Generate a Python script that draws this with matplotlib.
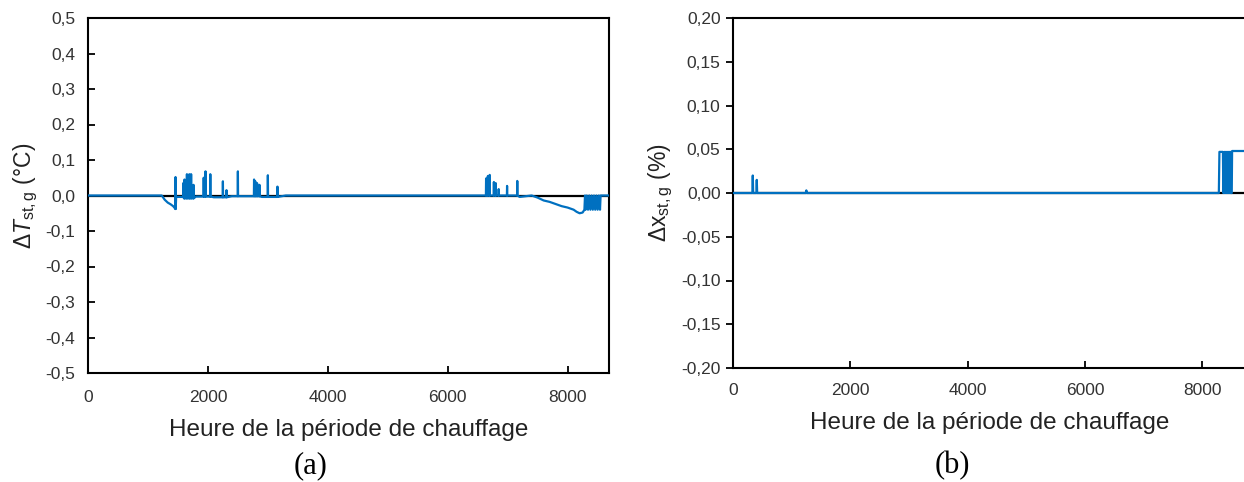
import matplotlib
matplotlib.use("Agg")
import matplotlib.pyplot as plt
from matplotlib.ticker import FuncFormatter

plt.rcParams['font.family'] = ['Liberation Sans', 'DejaVu Sans']
plt.rcParams['mathtext.fontset'] = 'custom'
plt.rcParams['mathtext.rm'] = 'Liberation Sans'
plt.rcParams['mathtext.it'] = 'Liberation Sans:italic'
plt.rcParams['mathtext.bf'] = 'Liberation Sans:bold'

BLUE = '#0070C0'

# --- (a) ΔT_st,g : breakpoints of the base curve (hour, °C)
base_hours_a = [0, 1230, 1280, 1330, 1380, 1420, 1450, 1456, 1470, 1600, 1800, 2100, 2400, 2900,
                3300, 6500, 7200, 7400, 7500, 7600, 7700, 7800, 7900, 8000, 8100, 8150, 8200,
                8250, 8280, 8290, 8300, 8320, 8340, 8360, 8380, 8400, 8420, 8440, 8460, 8480,
                8500, 8520, 8540, 8550, 8760]
base_vals_a = [0.0, 0.0, -0.012, -0.02, -0.025, -0.03, -0.036, -0.038, -0.004, -0.008, -0.003, -0.005,
               -0.002, -0.004, 0.0, 0.0, -0.004, 0.0, -0.006, -0.014, -0.018, -0.024, -0.03, -0.034,
               -0.04, -0.046, -0.05, -0.048, -0.04, 0.0, -0.04, 0.0, -0.04, 0.0, -0.04, 0.0, -0.04,
               0.0, -0.04, 0.0, -0.04, 0.0, -0.04, 0.0, 0.0]

# spikes (hour, height) on top of the base curve
spike_hours_a = [1460, 1590, 1610, 1650, 1690, 1720, 1760, 1930, 1960, 2040, 2250, 2310, 2500,
                 2770, 2790, 2820, 2860, 3000, 3160, 6640, 6670, 6700, 6770, 6800, 6850, 6990, 7160]
spike_vals_a = [0.052, 0.035, 0.045, 0.06, 0.06, 0.06, 0.03, 0.05, 0.068, 0.06, 0.04, 0.015, 0.068,
                0.045, 0.04, 0.035, 0.03, 0.057, 0.025, 0.048, 0.055, 0.058, 0.038, 0.035, 0.018,
                0.027, 0.041]

# --- (b) Δx_st,g : breakpoints (hour, %)
hours_b = [0, 330, 337, 344, 398, 405, 412, 1240, 1250, 1260, 8280, 8290, 8350, 8356, 8380, 8384,
           8400, 8404, 8420, 8424, 8440, 8444, 8460, 8464, 8480, 8484, 8500, 8506, 8760]
vals_b = [0.0, 0.0, 0.02, 0.0, 0.0, 0.015, 0.0, 0.0, 0.003, 0.0, 0.0, 0.047, 0.047, 0.0, 0.047, 0.0,
          0.047, 0.0, 0.047, 0.0, 0.047, 0.0, 0.047, 0.0, 0.047, 0.0, 0.0, 0.048, 0.048]


def merge_spikes(bh, bv, sh, sv):
    pts = list(zip(bh, bv))
    for h, v in zip(sh, sv):
        # base level at h, taken from the nearest earlier breakpoint
        lvl = 0.0
        for x, y in zip(bh, bv):
            if x <= h:
                lvl = y
        pts += [(h - 3, lvl), (h, v), (h + 3, lvl)]
    pts.sort(key=lambda p: p[0])
    return [p[0] for p in pts], [p[1] for p in pts]


def style_axes(ax, ylim, yticks, ndec, xmax, ydir, xpad):
    ax.axhline(0, color='black', lw=1.6, zorder=1)
    ax.set_xlim(0, xmax)
    ax.set_ylim(*ylim)
    ax.set_xticks([0, 2000, 4000, 6000, 8000])
    ax.set_yticks(yticks)
    ax.yaxis.set_major_formatter(FuncFormatter(lambda v, p: f"{v:.{ndec}f}".replace('.', ',')))
    ax.tick_params(axis='x', direction='in', length=5, width=1.3, labelsize=12.5, pad=xpad)
    ax.tick_params(axis='y', direction=ydir, length=5, width=1.3, labelsize=12.5,
                   pad=9 if ydir == 'in' else 4)
    ax.tick_params(labelcolor='#333333')
    for s in ax.spines.values():
        s.set_linewidth(1.5)
    ax.set_xlabel("Heure de la période de chauffage", fontsize=17.5, labelpad=10, color='#222222')


fig = plt.figure(figsize=(12.44, 4.82), dpi=100)

ax1 = fig.add_axes([88 / 1244, 1 - 373 / 482, (609 - 88) / 1244, (373 - 18) / 482])
xa, ya = merge_spikes(base_hours_a, base_vals_a, spike_hours_a, spike_vals_a)
ax1.plot(xa, ya, color=BLUE, lw=1.6, zorder=3)
style_axes(ax1, (-0.5, 0.5), [-0.5, -0.4, -0.3, -0.2, -0.1, 0.0, 0.1, 0.2, 0.3, 0.4, 0.5], 1, 8690,
           'in', 12)
ax1.set_ylabel(r'$\mathit{\Delta T}_{\mathrm{st,g}}$ (°C)', fontsize=16.5, labelpad=4, color='#222222')

ax2 = fig.add_axes([733 / 1244, 1 - 368 / 482, 514 / 1244, (368 - 18) / 482])
ax2.plot(hours_b, vals_b, color=BLUE, lw=1.6, zorder=3)
style_axes(ax2, (-0.2, 0.2), [-0.2, -0.15, -0.1, -0.05, 0.0, 0.05, 0.1, 0.15, 0.2], 2, 8760,
           'out', 11)
ax2.set_ylabel(r'$\mathit{\Delta}\mathrm{x}_{\mathrm{st,g}}$ (%)', fontsize=16.5, labelpad=4, color='#222222')

fig.text(311 / 1244, 1 - 466 / 482, "(a)", family='Liberation Serif', fontsize=22, ha='center', va='center')
fig.text(952 / 1244, 1 - 466 / 482, "(b)", family='Liberation Serif', fontsize=22, ha='center', va='center')

fig.savefig("out.png", dpi=100)
